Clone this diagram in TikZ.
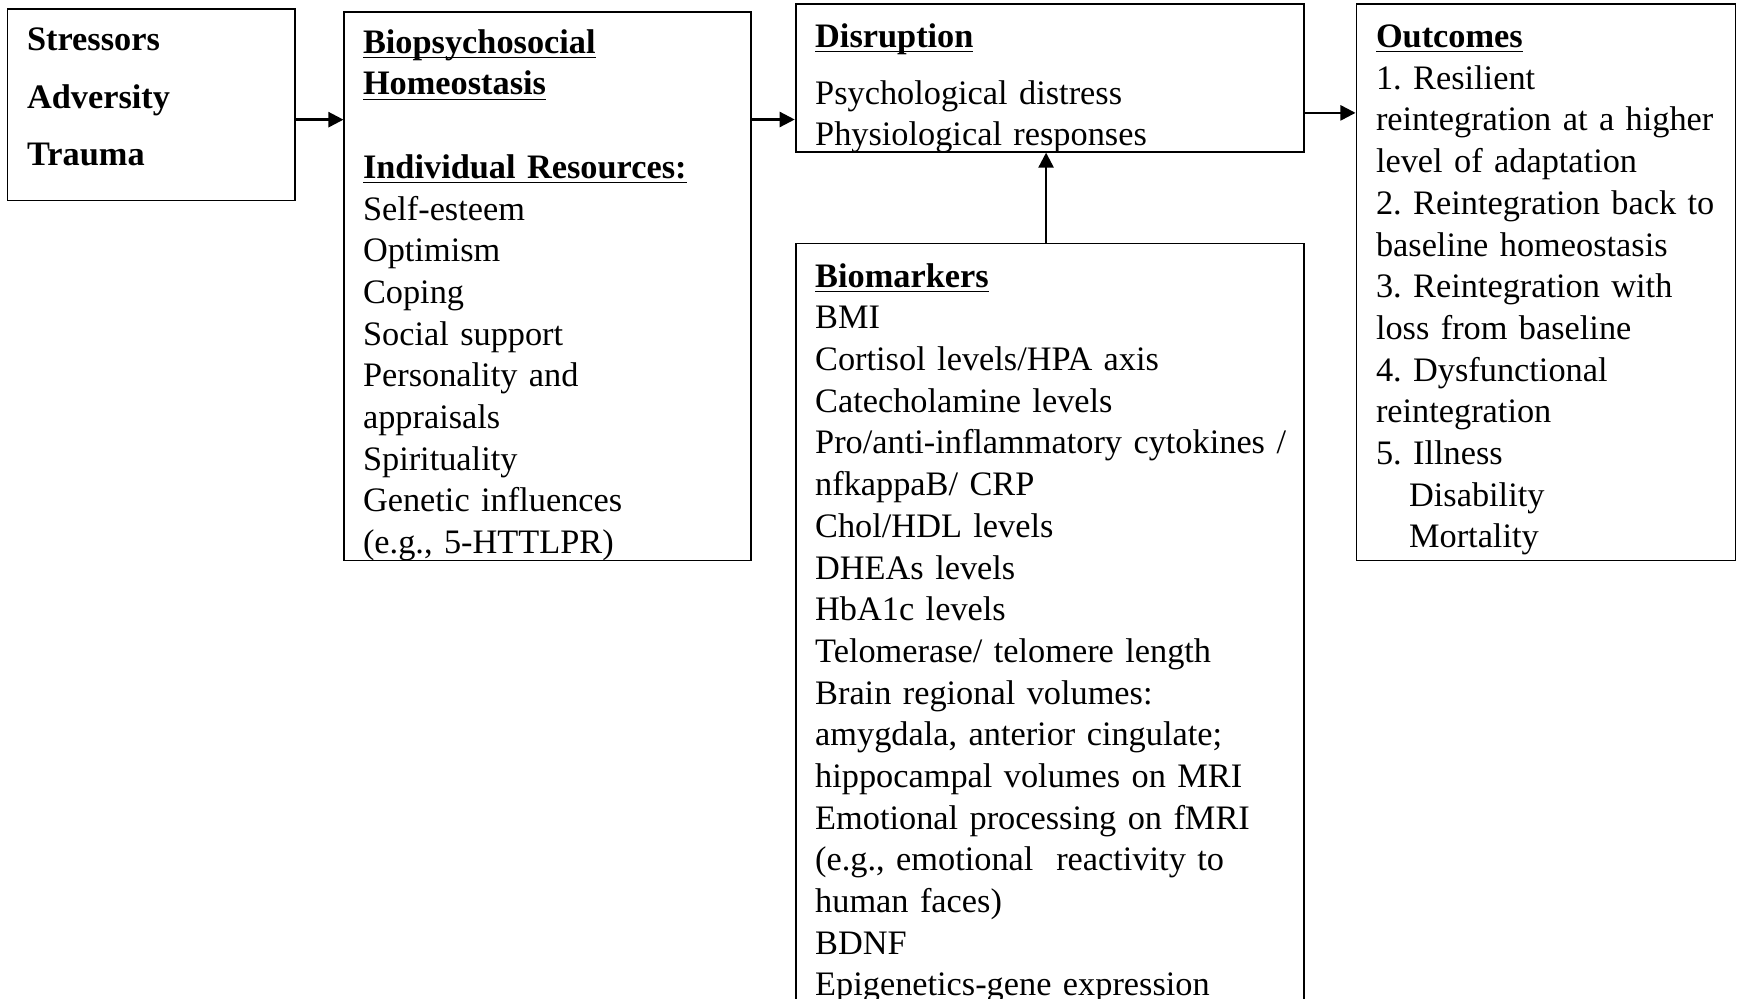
\documentclass[tikz,border=0pt]{standalone}
\usepackage{fontspec}
\setmainfont{Liberation Serif}
\usepackage{tikz}
\usetikzlibrary{arrows.meta}
\frenchspacing
\newcommand{\ulhead}[1]{\underline{\smash{\textbf{#1}}}\vphantom{#1}}

\begin{document}
\begin{tikzpicture}[x=1pt,y=-1pt]
\tikzstyle{every node}+=[inner sep=0pt]
\tikzstyle{box}=[draw=black, line width=0.6pt, anchor=north west]
\tikzstyle{txt}=[anchor=base west, text width=170pt, align=left, font=\fontsize{11.4}{13.85}\selectfont\frenchspacing]
\tikzstyle{arr}=[black, line width=0.8pt, -{Triangle[length=5pt,width=5pt]}]
\useasboundingbox (0,0) rectangle (577.36,331.54);
\clip (0,0) rectangle (577.36,331.54);
\node [box, minimum width=95.4pt, minimum height=63.7pt] (stress) at (2.2,2.6) {};
\node [box, minimum width=135.2pt, minimum height=182.2pt] (home) at (114.1,3.7) {};
\node [box, minimum width=169pt, minimum height=49pt] (disr) at (264,1.1) {};
\node [box, minimum width=169pt, minimum height=270pt] (bio) at (264,80.6) {};
\node [box, minimum width=125.9pt, minimum height=184.8pt] (outc) at (450.3,1.1) {};
\node [txt, font=\fontsize{11.4}{19.1}\selectfont\bfseries] (stresstxt) at (8.8,16.9) {Stressors\\Adversity\\Trauma};
\node [txt] (hometxt) at (120.4,17.7) {\ulhead{Biopsychosocial}\\\ulhead{Homeostasis}\\[13.85pt]
\ulhead{Individual Resources:}\\Self-esteem\\Optimism\\Coping\\Social support\\Personality and\\appraisals\\Spirituality\\Genetic influences\\(e.g., 5-HTTLPR)};
\node [txt] (disrtxt) at (270.6,15.8) {\ulhead{Disruption}\\[5pt]Psychological distress\\Physiological responses};
\node [txt] (biotxt) at (270.6,95.4) {\ulhead{Biomarkers}\\BMI\\Cortisol levels/HPA axis\\Catecholamine levels\\
Pro/anti-inflammatory cytokines /\\nfkappaB/ CRP\\Chol/HDL levels\\DHEAs levels\\HbA1c levels\\Telomerase/ telomere length\\
Brain regional volumes:\\amygdala, anterior cingulate;\\hippocampal volumes on MRI\\Emotional processing on fMRI\\
(e.g., emotional\ \ reactivity to\\human faces)\\BDNF\\Epigenetics-gene expression};
\node [txt] (outtxt) at (456.9,15.8) {\ulhead{Outcomes}\\1. Resilient\\reintegration at a higher\\level of adaptation\\
2. Reintegration back to\\baseline homeostasis\\3. Reintegration with\\loss from baseline\\4. Dysfunctional\\reintegration\\
5. Illness\\\hspace*{11pt}Disability\\\hspace*{11pt}Mortality};
\draw [arr] ([yshift=-5pt]stress.east) -- ([yshift=-5pt]stress.east -| home.west);
\draw [arr] ([yshift=55.4pt]home.east) -- ([yshift=55.4pt]home.east -| disr.west);
\draw [arr] ([yshift=-11.6pt]disr.east) -- ([yshift=-11.6pt]disr.east -| outc.west);
\draw [arr] ([xshift=-1.3pt]bio.north) -- ([xshift=-1.3pt]disr.south);
\end{tikzpicture}
\end{document}
